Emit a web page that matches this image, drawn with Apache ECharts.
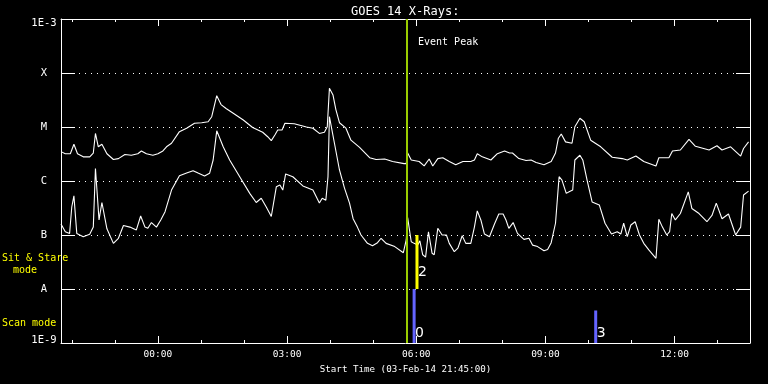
<!DOCTYPE html>
<html><head><meta charset="utf-8">
<script src="https://cdn.jsdelivr.net/npm/echarts@6/dist/echarts.min.js"></script>
<style>html,body{margin:0;padding:0;background:#000;}#c{width:768px;height:384px;}</style>
</head><body><div id="c"></div>
<script>
// GOES 14 X-ray flux (W/m^2), start 03-Feb-14 21:45:00
const upperTimes=['21:45','21:51','21:58','22:03','22:08','22:16','22:25','22:30','22:33','22:37','22:42','22:49','22:58','23:05','23:14','23:23','23:32','23:37','23:44','23:53','00:00','00:07','00:12','00:19','00:30','00:40','00:51','01:01','01:10','01:15','01:22','01:28','01:35','01:45','01:59','02:12','02:26','02:33','02:38','02:43','02:47','02:53','02:57','03:10','03:27','03:36','03:45','03:52','03:56','03:59','04:04','04:08','04:13','04:22','04:29','04:41','04:55','05:04','05:16','05:27','05:43','05:46','05:48','05:53','06:04','06:11','06:18','06:23','06:30','06:37','06:46','06:55','07:05','07:16','07:21','07:25','07:32','07:44','07:53','08:03','08:10','08:14','08:23','08:33','08:40','08:47','08:58','09:08','09:14','09:18','09:22','09:28','09:37','09:41','09:48','09:54','10:03','10:17','10:33','10:47','10:54','11:06','11:17','11:34','11:38','11:52','11:57','12:08','12:20','12:29','12:48','12:59','13:06','13:18','13:32','13:36','13:43'];
const upperFlux=[3.5e-6,3.2e-6,3.2e-6,4.8e-6,3.2e-6,2.8e-6,2.8e-6,3.3e-6,7.6e-6,4.3e-6,4.8e-6,3.2e-6,2.5e-6,2.6e-6,3.1e-6,3.0e-6,3.2e-6,3.6e-6,3.2e-6,3.0e-6,3.2e-6,3.6e-6,4.3e-6,5.0e-6,8.2e-6,9.5e-6,1.17e-5,1.2e-5,1.25e-5,1.55e-5,3.8e-5,2.6e-5,2.2e-5,1.8e-5,1.35e-5,9.8e-6,8.0e-6,6.6e-6,5.6e-6,7.1e-6,8.8e-6,8.8e-6,1.17e-5,1.15e-5,1.0e-5,9.5e-6,7.6e-6,8.0e-6,1.01e-5,5.2e-5,3.9e-5,2.1e-5,1.2e-5,9.5e-6,5.7e-6,4.2e-6,2.7e-6,2.5e-6,2.55e-6,2.3e-6,2.1e-6,2.1e-6,3.3e-6,2.45e-6,2.3e-6,1.9e-6,2.55e-6,1.9e-6,2.6e-6,2.7e-6,2.3e-6,2.0e-6,2.3e-6,2.3e-6,2.45e-6,3.2e-6,2.8e-6,2.45e-6,3.2e-6,3.6e-6,3.3e-6,3.3e-6,2.6e-6,2.4e-6,2.45e-6,2.2e-6,2.0e-6,2.3e-6,3.3e-6,6.2e-6,7.4e-6,5.3e-6,5.0e-6,1.01e-5,1.45e-5,1.25e-5,5.7e-6,4.3e-6,2.75e-6,2.6e-6,2.45e-6,2.9e-6,2.3e-6,1.9e-6,2.7e-6,2.7e-6,3.6e-6,3.75e-6,5.9e-6,4.4e-6,3.75e-6,4.5e-6,3.75e-6,4.3e-6,2.9e-6,4.0e-6,5.3e-6];

const lowerTimes=['21:45','21:51','21:57','22:00','22:03','22:07','22:16','22:25','22:30','22:33','22:38','22:42','22:49','22:58','23:05','23:12','23:21','23:30','23:36','23:42','23:46','23:51','23:58','00:04','00:10','00:19','00:30','00:40','00:49','00:56','01:05','01:12','01:17','01:22','01:31','01:40','01:54','02:08','02:17','02:24','02:31','02:38','02:45','02:50','02:54','02:58','03:08','03:22','03:36','03:45','03:49','03:54','03:57','03:59','04:06','04:13','04:20','04:27','04:32','04:38','04:43','04:52','04:59','05:06','05:11','05:18','05:30','05:42','05:46','05:48','05:53','05:57','06:02','06:05','06:09','06:13','06:17','06:22','06:25','06:30','06:36','06:42','06:46','06:53','06:58','07:04','07:09','07:16','07:21','07:25','07:30','07:35','07:42','07:49','07:55','08:01','08:05','08:09','08:15','08:21','08:30','08:37','08:42','08:49','08:58','09:03','09:08','09:14','09:19','09:23','09:29','09:33','09:38','09:41','09:48','09:52','09:58','10:05','10:15','10:23','10:32','10:40','10:45','10:49','10:54','10:59','11:05','11:11','11:17','11:24','11:34','11:38','11:43','11:49','11:53','11:56','12:01','12:08','12:19','12:24','12:34','12:45','12:52','12:58','13:06','13:15','13:25','13:32','13:36','13:43'];
const lowerFlux=[1.6e-7,1.15e-7,1.07e-7,3.3e-7,5.3e-7,1.07e-7,9.3e-8,1.03e-7,1.4e-7,1.7e-6,1.9e-7,4.0e-7,1.3e-7,7.0e-8,8.7e-8,1.5e-7,1.4e-7,1.24e-7,2.25e-7,1.4e-7,1.33e-7,1.7e-7,1.4e-7,1.9e-7,2.7e-7,6.8e-7,1.25e-6,1.4e-6,1.55e-6,1.4e-6,1.24e-6,1.39e-6,2.45e-6,8.5e-6,4.3e-6,2.45e-6,1.2e-6,5.9e-7,4.0e-7,4.8e-7,3.3e-7,2.2e-7,7.8e-7,8.4e-7,6.8e-7,1.35e-6,1.2e-6,8.1e-7,6.8e-7,3.9e-7,4.8e-7,4.4e-7,1.2e-6,1.55e-5,5.0e-6,1.6e-6,7.4e-7,3.9e-7,2.0e-7,1.4e-7,1.0e-7,7.0e-8,6.3e-8,7.2e-8,8.7e-8,7.0e-8,6.1e-8,4.7e-8,8.1e-8,2.1e-7,7.5e-8,7.0e-8,6.5e-8,7.8e-8,4.3e-8,3.9e-8,1.15e-7,4.6e-8,4.3e-8,1.33e-7,1.0e-7,1.0e-7,7.0e-8,4.9e-8,5.7e-8,9.7e-8,7.0e-8,7.0e-8,1.4e-7,2.8e-7,1.9e-7,1.04e-7,9.3e-8,1.6e-7,2.45e-7,2.45e-7,1.9e-7,1.33e-7,1.7e-7,1.07e-7,8.3e-8,8.7e-8,6.5e-8,6.1e-8,5.1e-8,5.4e-8,7.2e-8,1.65e-7,1.2e-6,1.04e-6,5.9e-7,6.3e-7,6.8e-7,2.45e-6,3.0e-6,2.45e-6,1.04e-6,4.1e-7,3.6e-7,1.65e-7,1.04e-7,1.15e-7,1.04e-7,1.65e-7,9.3e-8,1.53e-7,1.76e-7,1.0e-7,7.0e-8,5.3e-8,3.7e-8,1.95e-7,1.4e-7,1.0e-7,1.15e-7,2.5e-7,1.9e-7,2.5e-7,6.3e-7,3.1e-7,2.5e-7,1.76e-7,2.3e-7,3.9e-7,2.0e-7,2.45e-7,1.0e-7,1.4e-7,5.5e-7,6.5e-7];

// Observation markers
const obsTimes=['05:57','06:01','10:10'];
const obsIds=['0','2','3'];
const obsMode=['scan','sitstare','scan'];
const obsLow=[1e-9,1e-8,1e-9];
const obsHigh=[1e-8,1e-7,4e-9];

const eventPeak='05:47';
const startHour=21.75, endHour=37.75;   // 21:45 -> 13:45 next day
const majorTicks=[24,27,30,33,36];
const minorTicks=[22,23,24,25,26,27,28,29,30,31,32,33,34,35,36,37];
const levelLabels={'-9':'1E-9','-8':'A','-7':'B','-6':'C','-5':'M','-4':'X','-3':'1E-3'};

function toH(s){const p=s.split(':').map(Number);let v=p[0]+p[1]/60;if(v<20)v+=24;return v;}
const upperData=upperTimes.map((t,i)=>[toH(t),upperFlux[i]]);
const lowerData=lowerTimes.map((t,i)=>[toH(t),lowerFlux[i]]);
const obsData=obsTimes.map((t,i)=>[toH(t),obsLow[i],obsHigh[i]]);

const MONO='DejaVu Sans Mono';
const chart=echarts.init(document.getElementById('c'),null,{renderer:'canvas'});
const xBase={type:'value',min:startHour,max:endHour,gridIndex:0,splitLine:{show:false},
  axisLine:{show:true,lineStyle:{color:'#fff',width:1}}};
chart.setOption({
  backgroundColor:'#000',
  animation:false,
  title:{text:'GOES 14 X-Rays:',left:346,top:1,textStyle:{color:'#fff',fontFamily:MONO,fontSize:12,fontWeight:'normal'}},
  grid:{left:61,right:18,top:19,bottom:41},
  xAxis:[
    Object.assign({},xBase,{position:'bottom',
      axisTick:{show:true,inside:true,length:7,customValues:majorTicks,lineStyle:{color:'#fff'}},
      axisLabel:{show:true,customValues:majorTicks,color:'#fff',fontFamily:MONO,fontSize:9.5,margin:7,
        formatter:v=>String(Math.round(v)%24).padStart(2,'0')+':00'},
      name:'Start Time (03-Feb-14 21:45:00)',nameLocation:'middle',nameGap:19,
      nameTextStyle:{color:'#fff',fontFamily:MONO,fontSize:9.2}}),
    Object.assign({},xBase,{position:'bottom',axisLine:{show:false},
      axisTick:{show:true,inside:true,length:3,customValues:minorTicks,lineStyle:{color:'#fff'}},
      axisLabel:{show:false}}),
    Object.assign({},xBase,{position:'top',
      axisTick:{show:true,inside:true,length:7,customValues:majorTicks,lineStyle:{color:'#fff'}},
      axisLabel:{show:false}}),
    Object.assign({},xBase,{position:'top',axisLine:{show:false},
      axisTick:{show:true,inside:true,length:3,customValues:minorTicks,lineStyle:{color:'#fff'}},
      axisLabel:{show:false}})
  ],
  yAxis:[
    {type:'log',logBase:10,min:1e-9,max:1e-3,splitNumber:6,position:'left',
      axisLine:{show:true,lineStyle:{color:'#fff',width:1}},
      axisTick:{show:true,inside:true,length:14,lineStyle:{color:'#fff'}},
      splitLine:{show:true,lineStyle:{color:'#fff',width:1,type:[1,5]}},
      axisLabel:{color:'#fff',fontFamily:MONO,fontSize:10.5,align:'center',margin:17,
        formatter:v=>{const e=Math.round(Math.log10(v));const s=levelLabels[String(e)]||'';
          if(e===-3)return '{hi|'+s+'}'; if(e===-9)return '{lo|'+s+'}'; return s;},
        rich:{hi:{padding:[9,0,0,0],color:'#fff',fontFamily:MONO,fontSize:10.5},
              lo:{padding:[0,0,6,0],color:'#fff',fontFamily:MONO,fontSize:10.5}}}},
    {type:'log',logBase:10,min:1e-9,max:1e-3,splitNumber:6,position:'right',
      axisLine:{show:true,lineStyle:{color:'#fff',width:1}},
      axisTick:{show:true,inside:true,length:14,lineStyle:{color:'#fff'}},
      splitLine:{show:false},axisLabel:{show:false}}
  ],
  series:[
    {type:'line',name:'1-8 A',data:upperData,xAxisIndex:0,yAxisIndex:0,symbol:'none',
      lineStyle:{color:'#fff',width:1.1},z:3},
    {type:'line',name:'0.5-4 A',data:lowerData,xAxisIndex:0,yAxisIndex:0,symbol:'none',
      lineStyle:{color:'#fff',width:1.1},z:3,
      markLine:{silent:true,symbol:['none','none'],label:{show:false},
        lineStyle:{color:'#9acd00',width:2,type:'solid'},
        data:[{xAxis:toH(eventPeak)}]}},
    {type:'custom',xAxisIndex:0,yAxisIndex:0,data:obsData,z:4,clip:false,
      renderItem:function(params,api){
        const t=api.value(0),lo=api.value(1),hi=api.value(2);
        const p0=api.coord([t,lo]),p1=api.coord([t,hi]);
        const i=params.dataIndex;
        const scan=obsMode[i]==='scan';
        return {type:'group',children:[
          {type:'rect',shape:{x:p0[0]-1.5,y:p1[1],width:3,height:p0[1]-p1[1]},style:{fill:scan?'#6464ff':'#ffff00'}},
          {type:'text',x:p0[0]+1,y:p0[1]-(scan?10:17),style:{text:obsIds[i],fill:'#fff',font:'14px DejaVu Sans',verticalAlign:'middle',align:'left'}}
        ]};
      }}
  ],
  graphic:[
    {type:'text',left:418,top:37,style:{text:'Event Peak',fill:'#fff',font:'10px "DejaVu Sans Mono"'}},
    {type:'text',left:2,top:253,style:{text:'Sit & Stare',fill:'#ffff00',font:'10px "DejaVu Sans Mono"'}},
    {type:'text',left:13,top:265,style:{text:'mode',fill:'#ffff00',font:'10px "DejaVu Sans Mono"'}},
    {type:'text',left:2,top:318,style:{text:'Scan mode',fill:'#ffff00',font:'10px "DejaVu Sans Mono"'}}
  ]
});
</script></body></html>
